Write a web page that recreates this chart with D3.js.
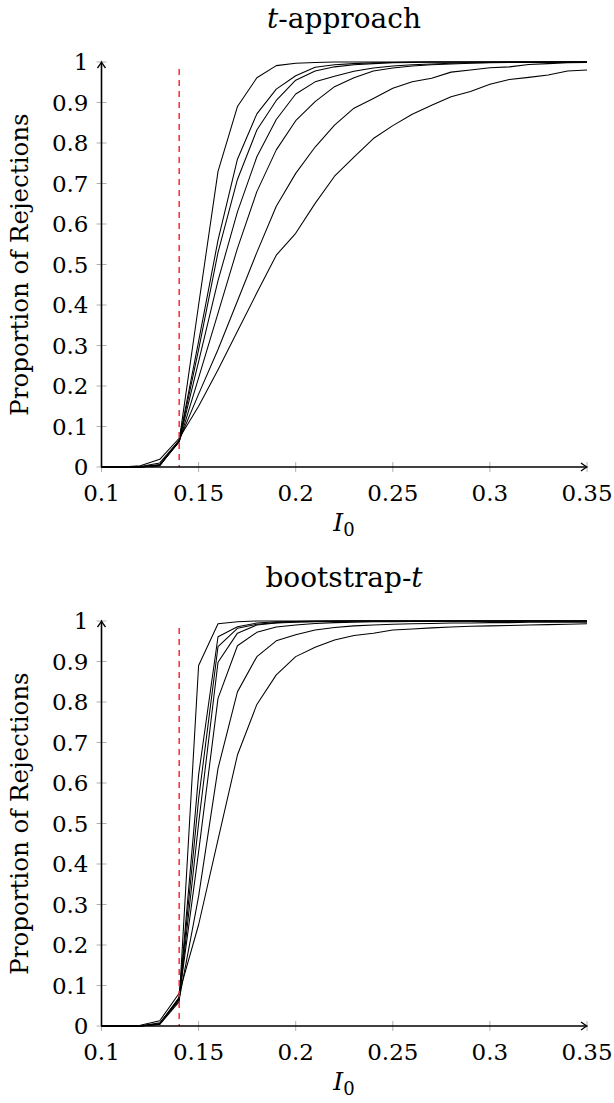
<!DOCTYPE html>
<html>
<head>
<meta charset="utf-8">
<script src="https://cdn.jsdelivr.net/npm/d3@7"></script>
<style>
  body { margin: 0; background: #fff; }
  svg text { font-family: "DejaVu Serif", serif; }
</style>
</head>
<body>
<svg id="chart" width="614" height="1103"></svg>
<script>
// x values (I_0)
var xValues = [0.10, 0.11, 0.12, 0.13, 0.14, 0.15, 0.16, 0.17, 0.18, 0.19, 0.20, 0.21, 0.22,
               0.23, 0.24, 0.25, 0.26, 0.27, 0.28, 0.29, 0.30, 0.31, 0.32, 0.33, 0.34, 0.35];

var xTicks = [0.1, 0.15, 0.2, 0.25, 0.3, 0.35];
var xTickLabels = ['0.1', '0.15', '0.2', '0.25', '0.3', '0.35'];
var yTicks = [0, 0.1, 0.2, 0.3, 0.4, 0.5, 0.6, 0.7, 0.8, 0.9, 1];
var yTickLabels = ['0', '0.1', '0.2', '0.3', '0.4', '0.5', '0.6', '0.7', '0.8', '0.9', '1'];
var nullValue = 0.14;

// t-approach curves
var tA = [0, 0, 0, 0.003, 0.065, 0.40, 0.73, 0.89, 0.961, 0.991, 0.997, 0.999, 1, 1, 1, 1, 1, 1, 1, 1, 1, 1, 1, 1, 1, 1];
var tB = [0, 0, 0, 0.004, 0.066, 0.31, 0.56, 0.76, 0.872, 0.933, 0.966, 0.987, 0.993, 0.996, 0.998, 0.999, 1, 1, 1, 1, 1, 1, 1, 1, 1, 1];
var tC = [0, 0, 0, 0.004, 0.064, 0.29, 0.53, 0.71, 0.832, 0.905, 0.955, 0.978, 0.988, 0.993, 0.996, 0.998, 0.999, 1, 1, 1, 1, 1, 1, 1, 1, 1];
var tD = [0, 0, 0, 0.005, 0.063, 0.26, 0.46, 0.63, 0.766, 0.858, 0.921, 0.951, 0.965, 0.977, 0.985, 0.99, 0.993, 0.995, 0.997, 0.998, 0.999, 1, 1, 1, 1, 1];
var tE = [0, 0, 0, 0.006, 0.062, 0.22, 0.38, 0.54, 0.68, 0.783, 0.855, 0.902, 0.939, 0.961, 0.978, 0.985, 0.99, 0.993, 0.995, 0.997, 0.998, 0.999, 0.999, 1, 1, 1];
var tF = [0, 0, 0.001, 0.01, 0.066, 0.18, 0.29, 0.41, 0.53, 0.644, 0.725, 0.79, 0.844, 0.886, 0.91, 0.935, 0.951, 0.96, 0.975, 0.98, 0.986, 0.988, 0.994, 0.996, 0.998, 0.999];
var tG = [0, 0, 0.003, 0.019, 0.071, 0.15, 0.24, 0.335, 0.43, 0.523, 0.577, 0.651, 0.718, 0.765, 0.811, 0.843, 0.871, 0.893, 0.914, 0.927, 0.945, 0.957, 0.962, 0.968, 0.978, 0.98];

// bootstrap-t curves
var bA = [0, 0, 0, 0.004, 0.06, 0.89, 0.993, 0.998, 1, 1, 1, 1, 1, 1, 1, 1, 1, 1, 1, 1, 1, 1, 1, 1, 1, 1];
var bB = [0, 0, 0, 0.005, 0.07, 0.62, 0.961, 0.986, 0.995, 0.998, 0.999, 1, 1, 1, 1, 1, 1, 1, 1, 1, 1, 1, 1, 1, 1, 1];
var bC = [0, 0, 0, 0.005, 0.068, 0.56, 0.937, 0.982, 0.992, 0.996, 0.998, 0.999, 1, 1, 1, 1, 1, 1, 1, 1, 1, 1, 1, 1, 1, 1];
var bD = [0, 0, 0, 0.005, 0.065, 0.50, 0.898, 0.97, 0.99, 0.995, 0.997, 0.998, 0.999, 1, 1, 1, 1, 1, 1, 1, 1, 1, 1, 1, 1, 1];
var bE = [0, 0, 0, 0.006, 0.07, 0.43, 0.809, 0.939, 0.972, 0.985, 0.99, 0.994, 0.996, 0.997, 0.998, 0.998, 0.999, 0.999, 1, 1, 1, 1, 1, 1, 1, 1];
var bF = [0, 0, 0, 0.008, 0.065, 0.32, 0.636, 0.825, 0.912, 0.951, 0.966, 0.978, 0.984, 0.988, 0.99, 0.992, 0.993, 0.994, 0.995, 0.995, 0.996, 0.996, 0.997, 0.997, 0.997, 0.997];
var bG = [0, 0, 0.002, 0.013, 0.081, 0.25, 0.46, 0.669, 0.794, 0.867, 0.912, 0.935, 0.953, 0.964, 0.97, 0.978, 0.98, 0.983, 0.985, 0.987, 0.988, 0.989, 0.99, 0.991, 0.992, 0.993];

var svg = d3.select('#chart');
svg.append('rect').attr('width', 614).attr('height', 1103).attr('fill', '#fff');

var x = d3.scaleLinear().domain([0.1, 0.35]).range([101.5, 587]);

function drawPanel(top, titleMain, titleItalic, italicFirst, series) {
    var y = d3.scaleLinear().domain([0, 1]).range([top + 405, top]);
    var g = svg.append('g');

    // grey ticks
    g.selectAll('.xt').data(xTicks).enter().append('line')
        .attr('x1', function(d) { return x(d); })
        .attr('x2', function(d) { return x(d); })
        .attr('y1', y(0) - 5).attr('y2', y(0) + 5)
        .attr('stroke', '#b0b0b0').attr('stroke-width', 1);
    g.selectAll('.yt').data(yTicks).enter().append('line')
        .attr('x1', x(0.1) - 5).attr('x2', x(0.1) + 5)
        .attr('y1', function(d) { return y(d); })
        .attr('y2', function(d) { return y(d); })
        .attr('stroke', '#b0b0b0').attr('stroke-width', 1);

    // curves
    var line = d3.line()
        .x(function(d, i) { return x(xValues[i]); })
        .y(function(d) { return y(d); });
    series.forEach(function(s) {
        g.append('path').attr('d', line(s))
            .attr('fill', 'none').attr('stroke', '#000')
            .attr('stroke-width', 1.05).attr('stroke-linejoin', 'round');
    });

    // null value
    g.append('line')
        .attr('x1', x(nullValue)).attr('x2', x(nullValue))
        .attr('y1', y(0.983)).attr('y2', y(0))
        .attr('stroke', '#ff1a1a').attr('stroke-width', 1.4)
        .attr('stroke-dasharray', '6,5');

    // axis lines with arrows
    g.append('line')
        .attr('x1', x(0.1)).attr('x2', x(0.35) - 1)
        .attr('y1', y(0)).attr('y2', y(0))
        .attr('stroke', '#000').attr('stroke-width', 1.6);
    g.append('line')
        .attr('x1', x(0.1)).attr('x2', x(0.1))
        .attr('y1', y(0)).attr('y2', y(1) + 1)
        .attr('stroke', '#000').attr('stroke-width', 1.6);
    var tx = x(0.35), ty = y(0);
    g.append('path')
        .attr('d', 'M' + (tx - 6) + ',' + (ty - 4) + ' Q' + (tx - 2) + ',' + (ty - 1) + ' ' + tx + ',' + ty +
                   ' Q' + (tx - 2) + ',' + (ty + 1) + ' ' + (tx - 6) + ',' + (ty + 4))
        .attr('fill', 'none').attr('stroke', '#000').attr('stroke-width', 1.3);
    tx = x(0.1); ty = y(1);
    g.append('path')
        .attr('d', 'M' + (tx - 4) + ',' + (ty + 6) + ' Q' + (tx - 1) + ',' + (ty + 2) + ' ' + tx + ',' + ty +
                   ' Q' + (tx + 1) + ',' + (ty + 2) + ' ' + (tx + 4) + ',' + (ty + 6))
        .attr('fill', 'none').attr('stroke', '#000').attr('stroke-width', 1.3);

    // tick labels
    g.selectAll('.xl').data(xTicks).enter().append('text')
        .attr('x', function(d) { return x(d); })
        .attr('y', y(0) + 34)
        .attr('text-anchor', 'middle').attr('font-size', 23)
        .text(function(d, i) { return xTickLabels[i]; });
    g.selectAll('.yl').data(yTicks).enter().append('text')
        .attr('x', x(0.1) - 13)
        .attr('y', function(d) { return y(d) + 8; })
        .attr('text-anchor', 'end').attr('font-size', 23)
        .text(function(d, i) { return yTickLabels[i]; });

    // title
    var t = g.append('text').attr('x', 344).attr('y', top - 34)
        .attr('text-anchor', 'middle').attr('font-size', 28);
    if (italicFirst) {
        t.append('tspan').attr('font-style', 'italic').text(titleItalic);
        t.append('tspan').text(titleMain);
    } else {
        t.append('tspan').text(titleMain);
        t.append('tspan').attr('font-style', 'italic').text(titleItalic);
    }

    // axis labels
    var xl = g.append('text').attr('x', 344).attr('y', y(0) + 64)
        .attr('text-anchor', 'middle').attr('font-size', 25);
    xl.append('tspan').attr('font-style', 'italic').text('I');
    xl.append('tspan').attr('font-size', 18).attr('dy', 5).text('0');

    g.append('text')
        .attr('transform', 'translate(28,' + (top + 202.5) + ') rotate(-90)')
        .attr('text-anchor', 'middle').attr('font-size', 24.5)
        .text('Proportion of Rejections');
}

drawPanel(62, '-approach', 't', true, [tA, tB, tC, tD, tE, tF, tG]);
drawPanel(621, 'bootstrap-', 't', false, [bA, bB, bC, bD, bE, bF, bG]);
</script>
</body>
</html>
